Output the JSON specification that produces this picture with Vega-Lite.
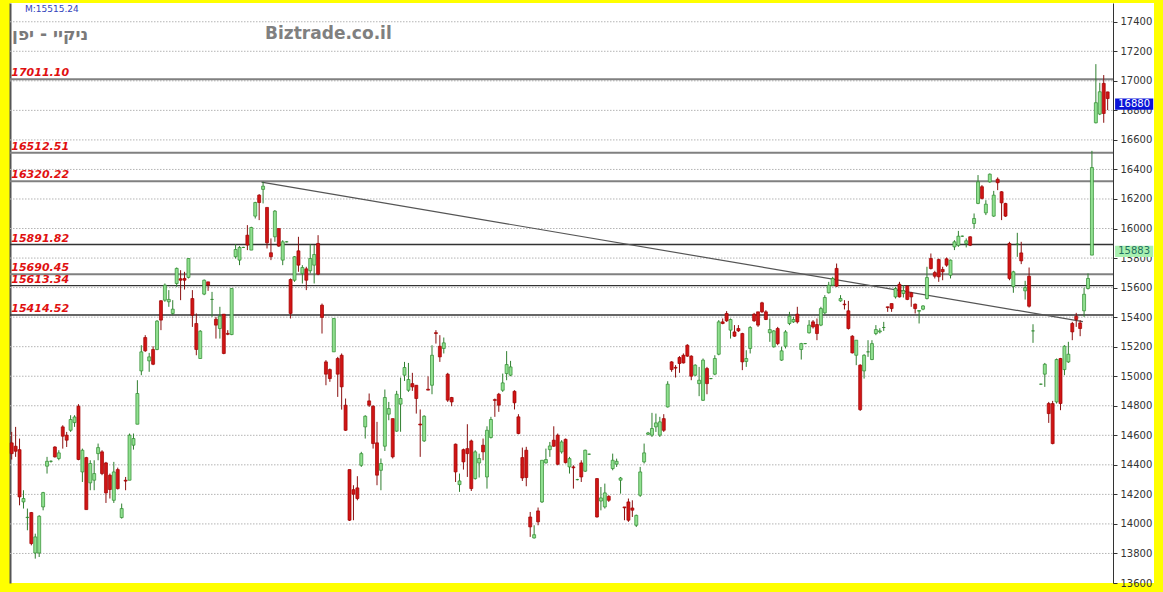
{
"$schema": "https://vega.github.io/schema/vega-lite/v6.json",
"width": 1144, "height": 580,
"autosize": {"type": "none"},
"padding": {"left": 10, "top": 3, "right": 9, "bottom": 9},
"background": "#ffff00",
"config": {"view": {"fill": "#ffffff", "stroke": null}, "font": "DejaVu Sans", "scale": {"continuousPadding": 0}},
"datasets": {
"grid": [{"p":13800},{"p":14000},{"p":14200},{"p":14400},{"p":14600},{"p":14800},{"p":15000},{"p":15200},{"p":15400},{"p":15600},{"p":15800},{"p":16000},{"p":16200},{"p":16400},{"p":16600},{"p":16800},{"p":17000},{"p":17200},{"p":17400}],
"lvA": [{"v":17011.10,"t":"17011.10"},{"v":16512.51,"t":"16512.51"},{"v":16320.22,"t":"16320.22"},{"v":15690.45,"t":"15690.45"}],
"lvB": [{"v":15891.82,"t":"15891.82"},{"v":15613.34,"t":"15613.34"},{"v":15414.52,"t":"15414.52"}],
"trend": [{"i":63.6,"p":16314},{"i":272.7,"p":15370}],
"candles": [
{"i":0,"o":14549,"h":14623,"l":14436,"c":14476},
{"i":1,"o":14526,"h":14657,"l":14454,"c":14492},
{"i":2,"o":14503,"h":14578,"l":14126,"c":14183},
{"i":3,"o":14149,"h":14228,"l":14104,"c":14172},
{"i":4,"o":14043,"h":14104,"l":13957,"c":14045},
{"i":5,"o":14077,"h":14081,"l":13855,"c":13867},
{"i":6,"o":13803,"h":13934,"l":13765,"c":13912},
{"i":7,"o":13803,"h":14059,"l":13776,"c":14052},
{"i":8,"o":14115,"h":14217,"l":14092,"c":14212},
{"i":9,"o":14391,"h":14454,"l":14341,"c":14424},
{"i":10,"o":14424,"h":14430,"l":14415,"c":14424},
{"i":11,"o":14521,"h":14526,"l":14449,"c":14454},
{"i":12,"o":14443,"h":14499,"l":14431,"c":14481},
{"i":13,"o":14657,"h":14668,"l":14510,"c":14594},
{"i":14,"o":14601,"h":14623,"l":14521,"c":14567},
{"i":15,"o":14634,"h":14736,"l":14623,"c":14707},
{"i":16,"o":14686,"h":14736,"l":14657,"c":14724},
{"i":17,"o":14797,"h":14811,"l":14431,"c":14436},
{"i":18,"o":14352,"h":14510,"l":14284,"c":14499},
{"i":19,"o":14449,"h":14454,"l":14097,"c":14097},
{"i":20,"o":14278,"h":14431,"l":14228,"c":14409},
{"i":21,"o":14296,"h":14431,"l":14228,"c":14341},
{"i":22,"o":14476,"h":14544,"l":14431,"c":14517},
{"i":23,"o":14488,"h":14499,"l":14330,"c":14341},
{"i":24,"o":14413,"h":14420,"l":14142,"c":14210},
{"i":25,"o":14330,"h":14341,"l":14172,"c":14233},
{"i":26,"o":14160,"h":14420,"l":14142,"c":14352},
{"i":27,"o":14368,"h":14381,"l":14233,"c":14239},
{"i":28,"o":14043,"h":14138,"l":14036,"c":14104},
{"i":29,"o":14296,"h":14318,"l":14228,"c":14290},
{"i":30,"o":14296,"h":14612,"l":14296,"c":14601},
{"i":31,"o":14533,"h":14612,"l":14503,"c":14578},
{"i":32,"o":14675,"h":14973,"l":14675,"c":14883},
{"i":33,"o":15036,"h":15210,"l":15007,"c":15165},
{"i":34,"o":15262,"h":15278,"l":15165,"c":15172},
{"i":35,"o":15104,"h":15158,"l":15030,"c":15131},
{"i":36,"o":15181,"h":15203,"l":15075,"c":15081},
{"i":37,"o":15181,"h":15380,"l":15176,"c":15373},
{"i":38,"o":15511,"h":15515,"l":15312,"c":15380},
{"i":39,"o":15515,"h":15628,"l":15504,"c":15617},
{"i":40,"o":15504,"h":15583,"l":15470,"c":15520},
{"i":41,"o":15425,"h":15515,"l":15413,"c":15454},
{"i":42,"o":15628,"h":15736,"l":15605,"c":15730},
{"i":43,"o":15660,"h":15718,"l":15515,"c":15650},
{"i":44,"o":15662,"h":15707,"l":15587,"c":15650},
{"i":45,"o":15669,"h":15797,"l":15662,"c":15797},
{"i":46,"o":15526,"h":15583,"l":15334,"c":15413},
{"i":47,"o":15357,"h":15425,"l":15142,"c":15181},
{"i":48,"o":15120,"h":15312,"l":15120,"c":15305},
{"i":49,"o":15556,"h":15655,"l":15549,"c":15650},
{"i":50,"o":15639,"h":15639,"l":15578,"c":15617},
{"i":51,"o":15520,"h":15571,"l":15402,"c":15520},
{"i":52,"o":15386,"h":15402,"l":15255,"c":15346},
{"i":53,"o":15323,"h":15470,"l":15255,"c":15407},
{"i":54,"o":15420,"h":15420,"l":15149,"c":15154},
{"i":55,"o":15290,"h":15312,"l":15278,"c":15284},
{"i":56,"o":15282,"h":15594,"l":15278,"c":15594},
{"i":57,"o":15809,"h":15895,"l":15797,"c":15858},
{"i":58,"o":15786,"h":15881,"l":15752,"c":15872},
{"i":59,"o":15872,"h":15876,"l":15868,"c":15872},
{"i":60,"o":15955,"h":16023,"l":15854,"c":15888},
{"i":61,"o":15854,"h":16012,"l":15854,"c":16007},
{"i":62,"o":16084,"h":16181,"l":16068,"c":16176},
{"i":63,"o":16226,"h":16233,"l":16057,"c":16176},
{"i":64,"o":16265,"h":16316,"l":16170,"c":16287},
{"i":65,"o":16143,"h":16143,"l":15865,"c":15903},
{"i":66,"o":15836,"h":15933,"l":15786,"c":15809},
{"i":67,"o":15944,"h":16125,"l":15910,"c":16118},
{"i":68,"o":16000,"h":16000,"l":15876,"c":15881},
{"i":69,"o":15786,"h":15921,"l":15752,"c":15910},
{"i":70,"o":15910,"h":15914,"l":15906,"c":15910},
{"i":71,"o":15655,"h":15662,"l":15391,"c":15425},
{"i":72,"o":15650,"h":15813,"l":15639,"c":15809},
{"i":73,"o":15849,"h":15944,"l":15707,"c":15752},
{"i":74,"o":15696,"h":15752,"l":15628,"c":15736},
{"i":75,"o":15727,"h":15741,"l":15583,"c":15650},
{"i":76,"o":15714,"h":15894,"l":15696,"c":15797},
{"i":77,"o":15752,"h":15888,"l":15628,"c":15824},
{"i":78,"o":15899,"h":15955,"l":15684,"c":15691},
{"i":79,"o":15481,"h":15492,"l":15289,"c":15398},
{"i":80,"o":15097,"h":15109,"l":14939,"c":15014},
{"i":81,"o":15045,"h":15052,"l":14962,"c":14984},
{"i":82,"o":15165,"h":15391,"l":15165,"c":15391},
{"i":83,"o":15120,"h":15131,"l":14860,"c":15014},
{"i":84,"o":15142,"h":15154,"l":14774,"c":14928},
{"i":85,"o":14804,"h":14849,"l":14630,"c":14634},
{"i":86,"o":14368,"h":14368,"l":14020,"c":14025},
{"i":87,"o":14232,"h":14262,"l":14025,"c":14201},
{"i":88,"o":14244,"h":14323,"l":14160,"c":14172},
{"i":89,"o":14397,"h":14488,"l":14386,"c":14476},
{"i":90,"o":14657,"h":14736,"l":14578,"c":14729},
{"i":91,"o":14833,"h":14883,"l":14792,"c":14804},
{"i":92,"o":14797,"h":14804,"l":14510,"c":14544},
{"i":93,"o":14549,"h":14691,"l":14262,"c":14330},
{"i":94,"o":14363,"h":14443,"l":14228,"c":14409},
{"i":95,"o":14526,"h":14910,"l":14494,"c":14856},
{"i":96,"o":14743,"h":14826,"l":14702,"c":14781},
{"i":97,"o":14713,"h":14713,"l":14443,"c":14454},
{"i":98,"o":14628,"h":14901,"l":14624,"c":14878},
{"i":99,"o":14811,"h":14991,"l":14624,"c":14849},
{"i":100,"o":15007,"h":15097,"l":14968,"c":15059},
{"i":101,"o":14905,"h":15090,"l":14894,"c":14978},
{"i":102,"o":14950,"h":15023,"l":14901,"c":14928},
{"i":103,"o":14939,"h":14939,"l":14747,"c":14849},
{"i":104,"o":14676,"h":14775,"l":14454,"c":14670},
{"i":105,"o":14562,"h":14736,"l":14555,"c":14729},
{"i":106,"o":14912,"h":14999,"l":14905,"c":14906},
{"i":107,"o":14939,"h":15210,"l":14878,"c":15142},
{"i":108,"o":15295,"h":15312,"l":15221,"c":15289},
{"i":109,"o":15203,"h":15278,"l":15097,"c":15131},
{"i":110,"o":15188,"h":15262,"l":15154,"c":15226},
{"i":111,"o":15014,"h":15023,"l":14826,"c":14838},
{"i":112,"o":14856,"h":14860,"l":14797,"c":14826},
{"i":113,"o":14540,"h":14544,"l":14284,"c":14352},
{"i":114,"o":14266,"h":14341,"l":14217,"c":14291},
{"i":115,"o":14503,"h":14510,"l":14368,"c":14420},
{"i":116,"o":14510,"h":14675,"l":14318,"c":14476},
{"i":117,"o":14562,"h":14571,"l":14223,"c":14239},
{"i":118,"o":14307,"h":14499,"l":14300,"c":14488},
{"i":119,"o":14413,"h":14476,"l":14314,"c":14443},
{"i":120,"o":14533,"h":14578,"l":14431,"c":14488},
{"i":121,"o":14318,"h":14661,"l":14239,"c":14634},
{"i":122,"o":14585,"h":14725,"l":14578,"c":14707},
{"i":123,"o":14842,"h":14849,"l":14725,"c":14836},
{"i":124,"o":14878,"h":14887,"l":14759,"c":14804},
{"i":125,"o":14905,"h":15018,"l":14894,"c":14955},
{"i":126,"o":15018,"h":15170,"l":14973,"c":15079},
{"i":127,"o":15007,"h":15104,"l":15000,"c":15063},
{"i":128,"o":14898,"h":14905,"l":14775,"c":14820},
{"i":129,"o":14725,"h":14743,"l":14607,"c":14612},
{"i":130,"o":14449,"h":14517,"l":14291,"c":14311},
{"i":131,"o":14499,"h":14522,"l":14255,"c":14314},
{"i":132,"o":14047,"h":14081,"l":13912,"c":13980},
{"i":133,"o":13905,"h":13991,"l":13901,"c":13927},
{"i":134,"o":14088,"h":14111,"l":13991,"c":14014},
{"i":135,"o":14149,"h":14431,"l":14142,"c":14431},
{"i":136,"o":14413,"h":14510,"l":14409,"c":14436},
{"i":137,"o":14503,"h":14555,"l":14454,"c":14528},
{"i":138,"o":14567,"h":14661,"l":14522,"c":14526},
{"i":139,"o":14601,"h":14612,"l":14397,"c":14404},
{"i":140,"o":14488,"h":14567,"l":14476,"c":14555},
{"i":141,"o":14573,"h":14578,"l":14409,"c":14415},
{"i":142,"o":14386,"h":14454,"l":14341,"c":14442},
{"i":143,"o":14386,"h":14397,"l":14239,"c":14380},
{"i":144,"o":14300,"h":14305,"l":14295,"c":14300},
{"i":145,"o":14413,"h":14431,"l":14284,"c":14318},
{"i":146,"o":14357,"h":14503,"l":14352,"c":14499},
{"i":147,"o":14472,"h":14476,"l":14468,"c":14472},
{"i":149,"o":14307,"h":14311,"l":14043,"c":14047},
{"i":150,"o":14155,"h":14250,"l":14092,"c":14176},
{"i":151,"o":14115,"h":14273,"l":14104,"c":14210},
{"i":152,"o":14187,"h":14194,"l":14149,"c":14160},
{"i":153,"o":14375,"h":14476,"l":14363,"c":14431},
{"i":154,"o":14404,"h":14442,"l":14386,"c":14424},
{"i":155,"o":14296,"h":14318,"l":14205,"c":14311},
{"i":156,"o":14115,"h":14115,"l":14025,"c":14109},
{"i":157,"o":14149,"h":14172,"l":14014,"c":14025},
{"i":158,"o":14108,"h":14160,"l":14047,"c":14093},
{"i":159,"o":13991,"h":14063,"l":13979,"c":14058},
{"i":160,"o":14194,"h":14386,"l":14183,"c":14352},
{"i":161,"o":14420,"h":14544,"l":14409,"c":14481},
{"i":162,"o":14607,"h":14623,"l":14601,"c":14616},
{"i":163,"o":14601,"h":14752,"l":14589,"c":14646},
{"i":164,"o":14657,"h":14747,"l":14623,"c":14684},
{"i":165,"o":14601,"h":14725,"l":14589,"c":14691},
{"i":166,"o":14713,"h":14743,"l":14623,"c":14634},
{"i":167,"o":14792,"h":14966,"l":14788,"c":14946},
{"i":168,"o":15097,"h":15102,"l":15030,"c":15045},
{"i":169,"o":15060,"h":15075,"l":14991,"c":15055},
{"i":170,"o":15127,"h":15136,"l":15023,"c":15086},
{"i":171,"o":15142,"h":15154,"l":15086,"c":15090},
{"i":172,"o":15210,"h":15217,"l":15131,"c":15136},
{"i":173,"o":15136,"h":15142,"l":14973,"c":15000},
{"i":174,"o":15007,"h":15081,"l":15000,"c":15075},
{"i":175,"o":14950,"h":15063,"l":14865,"c":14973},
{"i":176,"o":14837,"h":15120,"l":14833,"c":15109},
{"i":177,"o":15052,"h":15063,"l":14878,"c":14950},
{"i":178,"o":14984,"h":14988,"l":14980,"c":14984},
{"i":179,"o":15014,"h":15142,"l":15007,"c":15120},
{"i":180,"o":15149,"h":15380,"l":15142,"c":15368},
{"i":181,"o":15368,"h":15391,"l":15352,"c":15357},
{"i":182,"o":15425,"h":15441,"l":15368,"c":15375},
{"i":183,"o":15312,"h":15391,"l":15255,"c":15384},
{"i":184,"o":15300,"h":15346,"l":15267,"c":15271},
{"i":185,"o":15323,"h":15346,"l":15300,"c":15307},
{"i":186,"o":15289,"h":15294,"l":15041,"c":15097},
{"i":187,"o":15100,"h":15176,"l":15063,"c":15120},
{"i":188,"o":15188,"h":15339,"l":15154,"c":15330},
{"i":189,"o":15420,"h":15429,"l":15368,"c":15375},
{"i":190,"o":15436,"h":15436,"l":15334,"c":15346},
{"i":191,"o":15497,"h":15504,"l":15429,"c":15436},
{"i":192,"o":15436,"h":15447,"l":15380,"c":15384},
{"i":193,"o":15294,"h":15391,"l":15233,"c":15316},
{"i":194,"o":15199,"h":15312,"l":15194,"c":15307},
{"i":195,"o":15323,"h":15334,"l":15210,"c":15221},
{"i":196,"o":15109,"h":15199,"l":15104,"c":15172},
{"i":197,"o":15203,"h":15312,"l":15188,"c":15300},
{"i":198,"o":15357,"h":15436,"l":15346,"c":15407},
{"i":199,"o":15368,"h":15402,"l":15361,"c":15384},
{"i":200,"o":15420,"h":15470,"l":15357,"c":15368},
{"i":201,"o":15181,"h":15226,"l":15113,"c":15221},
{"i":202,"o":15221,"h":15225,"l":15217,"c":15221},
{"i":203,"o":15294,"h":15380,"l":15289,"c":15346},
{"i":204,"o":15368,"h":15380,"l":15323,"c":15334},
{"i":205,"o":15350,"h":15391,"l":15244,"c":15289},
{"i":206,"o":15346,"h":15470,"l":15339,"c":15458},
{"i":207,"o":15429,"h":15549,"l":15420,"c":15533},
{"i":208,"o":15565,"h":15639,"l":15560,"c":15616},
{"i":209,"o":15616,"h":15673,"l":15610,"c":15662},
{"i":210,"o":15730,"h":15763,"l":15605,"c":15610},
{"i":211,"o":15510,"h":15549,"l":15504,"c":15526},
{"i":212,"o":15488,"h":15515,"l":15452,"c":15484},
{"i":213,"o":15443,"h":15510,"l":15316,"c":15323},
{"i":214,"o":15271,"h":15278,"l":15154,"c":15158},
{"i":215,"o":15142,"h":15244,"l":15075,"c":15244},
{"i":216,"o":15075,"h":15081,"l":14765,"c":14774},
{"i":217,"o":15036,"h":15149,"l":14984,"c":15142},
{"i":218,"o":15165,"h":15244,"l":15131,"c":15165},
{"i":219,"o":15113,"h":15244,"l":15109,"c":15221},
{"i":220,"o":15289,"h":15346,"l":15278,"c":15316},
{"i":221,"o":15300,"h":15325,"l":15290,"c":15307},
{"i":222,"o":15330,"h":15368,"l":15307,"c":15330},
{"i":223,"o":15470,"h":15470,"l":15436,"c":15465},
{"i":224,"o":15492,"h":15492,"l":15436,"c":15458},
{"i":225,"o":15537,"h":15605,"l":15526,"c":15594},
{"i":226,"o":15623,"h":15639,"l":15533,"c":15537},
{"i":227,"o":15560,"h":15617,"l":15533,"c":15580},
{"i":228,"o":15610,"h":15617,"l":15515,"c":15520},
{"i":229,"o":15565,"h":15571,"l":15470,"c":15537},
{"i":230,"o":15488,"h":15492,"l":15425,"c":15458},
{"i":231,"o":15440,"h":15447,"l":15357,"c":15445},
{"i":232,"o":15454,"h":15481,"l":15447,"c":15476},
{"i":233,"o":15526,"h":15741,"l":15520,"c":15668},
{"i":234,"o":15797,"h":15831,"l":15723,"c":15729},
{"i":235,"o":15702,"h":15714,"l":15662,"c":15677},
{"i":236,"o":15790,"h":15797,"l":15639,"c":15673},
{"i":237,"o":15723,"h":15741,"l":15650,"c":15707},
{"i":238,"o":15795,"h":15804,"l":15741,"c":15752},
{"i":239,"o":15684,"h":15790,"l":15662,"c":15786},
{"i":240,"o":15876,"h":15921,"l":15854,"c":15910},
{"i":241,"o":15887,"h":15984,"l":15876,"c":15948},
{"i":242,"o":15948,"h":15952,"l":15944,"c":15948},
{"i":243,"o":15899,"h":15933,"l":15872,"c":15917},
{"i":244,"o":15944,"h":15948,"l":15881,"c":15887},
{"i":245,"o":16034,"h":16102,"l":16000,"c":16068},
{"i":246,"o":16170,"h":16362,"l":16165,"c":16316},
{"i":247,"o":16283,"h":16294,"l":16197,"c":16204},
{"i":248,"o":16106,"h":16192,"l":16091,"c":16165},
{"i":249,"o":16316,"h":16373,"l":16310,"c":16368},
{"i":250,"o":16084,"h":16255,"l":16079,"c":16226},
{"i":251,"o":16334,"h":16346,"l":16260,"c":16310},
{"i":252,"o":16249,"h":16253,"l":16057,"c":16174},
{"i":253,"o":16170,"h":16174,"l":16079,"c":16084},
{"i":254,"o":15899,"h":15910,"l":15650,"c":15662},
{"i":255,"o":15607,"h":15714,"l":15565,"c":15707},
{"i":256,"o":15894,"h":15971,"l":15808,"c":15894},
{"i":257,"o":15835,"h":15910,"l":15759,"c":15781},
{"i":258,"o":15578,"h":15646,"l":15519,"c":15600},
{"i":259,"o":15677,"h":15736,"l":15465,"c":15474},
{"i":260,"o":15307,"h":15352,"l":15226,"c":15307},
{"i":262,"o":14946,"h":14950,"l":14942,"c":14946},
{"i":263,"o":15014,"h":15090,"l":14928,"c":15081},
{"i":264,"o":14815,"h":14826,"l":14684,"c":14747},
{"i":265,"o":14815,"h":14833,"l":14539,"c":14544},
{"i":266,"o":14826,"h":15120,"l":14815,"c":15113},
{"i":267,"o":15120,"h":15124,"l":14770,"c":14815},
{"i":268,"o":15045,"h":15210,"l":15007,"c":15203},
{"i":269,"o":15097,"h":15233,"l":15090,"c":15149},
{"i":270,"o":15357,"h":15368,"l":15244,"c":15300},
{"i":271,"o":15406,"h":15429,"l":15334,"c":15384},
{"i":272,"o":15361,"h":15380,"l":15271,"c":15323},
{"i":273,"o":15443,"h":15600,"l":15402,"c":15555},
{"i":274,"o":15594,"h":15696,"l":15587,"c":15662},
{"i":275,"o":15820,"h":16526,"l":15820,"c":16413},
{"i":276,"o":16716,"h":17113,"l":16712,"c":16852},
{"i":277,"o":16775,"h":16987,"l":16768,"c":16926},
{"i":278,"o":16983,"h":17039,"l":16716,"c":16779},
{"i":279,"o":16925,"h":16926,"l":16802,"c":16880}
]
},
"layer": [
{"data": {"name": "grid"},
 "mark": {"type": "rule", "color": "#b4b4b4", "strokeDash": [1.5, 1.5], "strokeWidth": 1},
 "encoding": {
  "y": {"field": "p", "type": "quantitative", "scale": {"domain": [13600, 17527], "nice": false, "zero": false, "padding": 0},
        "axis": {"orient": "left", "labels": false, "ticks": false, "grid": false, "domain": true, "domainColor": "#555555", "domainWidth": 2, "title": null}},
  "x": {"datum": -0.43, "type": "quantitative", "scale": {"domain": [-0.43, 290.8], "nice": false, "zero": false, "padding": 0},
        "axis": {"orient": "bottom", "values": [24, 44.1, 65.1, 85.3, 104.1, 124, 146.1, 167.2, 188.1, 210.9, 231.9, 252.9, 275.8], "labels": false, "ticks": false, "grid": true, "gridColor": "#b4b4b4", "gridDash": [1.5, 1.5], "gridWidth": 1, "domain": true, "domainColor": "#777777", "domainWidth": 1.5, "title": null}},
  "x2": {"datum": 280.37}
 }},
{"data": {"name": "lvA"},
 "mark": {"type": "rule", "color": "#808080", "strokeWidth": 2},
 "encoding": {"y": {"field": "v", "type": "quantitative", "axis": null}, "x": {"datum": -0.43, "type": "quantitative", "axis": null}, "x2": {"datum": 280.37}}},
{"data": {"name": "lvB"},
 "mark": {"type": "rule", "color": "#333333", "strokeWidth": 1.3},
 "encoding": {"y": {"field": "v", "type": "quantitative", "axis": null}, "x": {"datum": -0.43, "type": "quantitative", "axis": null}, "x2": {"datum": 280.37}}},
{"data": {"name": "trend"},
 "mark": {"type": "line", "color": "#555555", "strokeWidth": 1.2},
 "encoding": {"x": {"field": "i", "type": "quantitative", "axis": null}, "y": {"field": "p", "type": "quantitative", "axis": null}}},
{"data": {"name": "candles"},
 "mark": {"type": "rule", "strokeWidth": 1},
 "encoding": {
  "x": {"field": "i", "type": "quantitative", "axis": null},
  "y": {"field": "l", "type": "quantitative", "axis": null},
  "y2": {"field": "h"},
  "color": {"condition": {"test": "datum.c >= datum.o", "value": "#2f7f2f"}, "value": "#8a1010"}
 }},
{"data": {"name": "candles"},
 "mark": {"type": "bar", "width": 3, "strokeWidth": 0.7},
 "encoding": {
  "x": {"field": "i", "type": "quantitative", "scale": {"domain": [-0.43, 290.8], "nice": false, "zero": false, "padding": 0}, "axis": null},
  "y": {"field": "o", "type": "quantitative", "scale": {"domain": [13600, 17527], "nice": false, "zero": false, "padding": 0},
        "axis": {"orient": "right", "offset": -41, "values": [13600, 13800, 14000, 14200, 14400, 14600, 14800, 15000, 15200, 15400, 15600, 15800, 16000, 16200, 16400, 16600, 16800, 17000, 17200, 17400], "format": "d", "labelFont": "DejaVu Sans", "labelFontSize": 10, "labelColor": "#333333", "labelFlush": false, "labelOverlap": false, "labelPadding": 3, "tickSize": 4, "tickColor": "#333333", "domainColor": "#333333", "domainWidth": 1, "grid": false, "title": null}},
  "y2": {"field": "c"},
  "fill": {"condition": {"test": "datum.c >= datum.o", "value": "#90e090"}, "value": "#d01515"},
  "stroke": {"condition": {"test": "datum.c >= datum.o", "value": "#2e8b2e"}, "value": "#a00000"}
 }},
{"data": {"name": "lvA"},
 "mark": {"type": "text", "align": "left", "baseline": "bottom", "dy": -1, "font": "DejaVu Sans", "fontSize": 11, "fontWeight": "bold", "fontStyle": "italic", "color": "#e01010"},
 "encoding": {"y": {"field": "v", "type": "quantitative", "axis": null}, "x": {"datum": -0.1, "type": "quantitative", "axis": null}, "text": {"field": "t"}}},
{"data": {"name": "lvB"},
 "mark": {"type": "text", "align": "left", "baseline": "bottom", "dy": -1, "font": "DejaVu Sans", "fontSize": 11, "fontWeight": "bold", "fontStyle": "italic", "color": "#e01010"},
 "encoding": {"y": {"field": "v", "type": "quantitative", "axis": null}, "x": {"datum": -0.1, "type": "quantitative", "axis": null}, "text": {"field": "t"}}},
{"data": {"values": [{"t": "ניקיי - יפן"}]},
 "mark": {"type": "text", "align": "left", "baseline": "middle", "font": "DejaVu Sans", "fontSize": 17, "fontWeight": "bold", "color": "#7a7a7a"},
 "encoding": {"x": {"datum": 0.1, "type": "quantitative", "axis": null}, "y": {"datum": 17310, "type": "quantitative", "axis": null}, "text": {"field": "t"}}},
{"data": {"values": [{"t": "Biztrade.co.il"}]},
 "mark": {"type": "text", "align": "left", "baseline": "middle", "font": "DejaVu Sans", "fontSize": 17, "fontWeight": "bold", "color": "#808080"},
 "encoding": {"x": {"datum": 64.5, "type": "quantitative", "axis": null}, "y": {"datum": 17316, "type": "quantitative", "axis": null}, "text": {"field": "t"}}},
{"data": {"values": [{"t": "M:15515.24"}]},
 "mark": {"type": "text", "align": "left", "baseline": "alphabetic", "font": "DejaVu Sans", "fontSize": 9, "color": "#3344bb"},
 "encoding": {"x": {"datum": 3.4, "type": "quantitative", "axis": null}, "y": {"datum": 17466, "type": "quantitative", "axis": null}, "text": {"field": "t"}}},
{"data": {"values": [{"p": 16880}]},
 "mark": {"type": "rect", "color": "#0a14d8"},
 "encoding": {"x": {"datum": 280.9, "type": "quantitative", "axis": null}, "x2": {"datum": 290.6}, "y": {"datum": 16880, "type": "quantitative", "axis": null}, "y2": {"datum": 16805}}},
{"data": {"values": [{"t": "16880"}]},
 "mark": {"type": "text", "align": "center", "baseline": "middle", "font": "DejaVu Sans", "fontSize": 10, "color": "#ffffff"},
 "encoding": {"x": {"datum": 285.75, "type": "quantitative", "axis": null}, "y": {"datum": 16842, "type": "quantitative", "axis": null}, "text": {"field": "t"}}},
{"data": {"values": [{"p": 15883}]},
 "mark": {"type": "rect", "color": "#a8f0b0"},
 "encoding": {"x": {"datum": 280.9, "type": "quantitative", "axis": null}, "x2": {"datum": 290.6}, "y": {"datum": 15883, "type": "quantitative", "axis": null}, "y2": {"datum": 15808}}},
{"data": {"values": [{"t": "15883"}]},
 "mark": {"type": "text", "align": "center", "baseline": "middle", "font": "DejaVu Sans", "fontSize": 10, "color": "#1f6f5f"},
 "encoding": {"x": {"datum": 285.75, "type": "quantitative", "axis": null}, "y": {"datum": 15845, "type": "quantitative", "axis": null}, "text": {"field": "t"}}}
]
}
